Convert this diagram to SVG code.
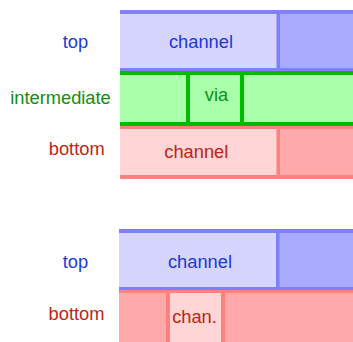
<svg xmlns="http://www.w3.org/2000/svg" width="353" height="342" viewBox="0 0 353 342">
<style>
text{font-family:"Liberation Sans",Arial,sans-serif;font-size:18.3px}
.bt{fill:#2038e0}.gt{fill:#109010}.rt{fill:#c02414}
.bl{fill:#d5d5ff}.bd{fill:#aaaaff}.bs{fill:#8080ff}
.gf{fill:#aaffaa}.gs{fill:#00bb00}
.rl{fill:#ffd5d5}.rd{fill:#ffaaaa}.rs{fill:#ff8080}
</style>
<rect width="353" height="342" fill="#ffffff"/>
<g id="top1">
<rect class="bl" x="120" y="10" width="158" height="61"/>
<rect class="bd" x="278" y="10" width="75" height="61"/>
<rect class="bs" x="120" y="10" width="233" height="4"/>
<rect class="bs" x="120" y="68" width="233" height="3"/>
<rect class="bs" x="276.5" y="14" width="3.5" height="54"/>
<text class="bt" x="201" y="48.3" text-anchor="middle">channel</text>
</g>
<g id="intermediate1">
<rect class="gf" x="120" y="71" width="233" height="55"/>
<rect class="gs" x="120" y="71" width="233" height="4"/>
<rect class="gs" x="120" y="122" width="233" height="4"/>
<rect class="gs" x="186" y="75" width="4" height="47"/>
<rect class="gs" x="240" y="75" width="4" height="47"/>
<text class="gt" x="216.5" y="101" text-anchor="middle">via</text>
</g>
<g id="bottom1">
<rect class="rl" x="120" y="126" width="158" height="53"/>
<rect class="rd" x="278" y="126" width="75" height="53"/>
<rect class="rs" x="120" y="126" width="233" height="3"/>
<rect class="rs" x="120" y="175" width="233" height="4"/>
<rect class="rs" x="276.5" y="129" width="3.5" height="46"/>
<text class="rt" x="196.3" y="158.3" text-anchor="middle">channel</text>
</g>
<g id="top2">
<rect class="bl" x="119" y="229" width="158" height="61"/>
<rect class="bd" x="277" y="229" width="76" height="61"/>
<rect class="bs" x="119" y="229" width="234" height="4"/>
<rect class="bs" x="119" y="287" width="234" height="3"/>
<rect class="bs" x="276" y="233" width="3.5" height="54"/>
<text class="bt" x="200" y="268.3" text-anchor="middle">channel</text>
</g>
<g id="bottom2">
<rect class="rd" x="119" y="290" width="234" height="52"/>
<rect class="rl" x="170" y="293" width="51" height="49"/>
<rect class="rs" x="119" y="290" width="234" height="3"/>
<rect class="rs" x="166" y="293" width="4" height="49"/>
<rect class="rs" x="221" y="293" width="4" height="49"/>
<text class="rt" x="194.5" y="323.3" text-anchor="middle">chan.</text>
</g>
<g id="labels">
<text class="bt" x="75.5" y="48.3" text-anchor="middle">top</text>
<text class="gt" x="60.5" y="103.5" text-anchor="middle">intermediate</text>
<text class="rt" x="76.7" y="155" text-anchor="middle">bottom</text>
<text class="bt" x="75.5" y="268.3" text-anchor="middle">top</text>
<text class="rt" x="76.5" y="320" text-anchor="middle">bottom</text>
</g>
</svg>
